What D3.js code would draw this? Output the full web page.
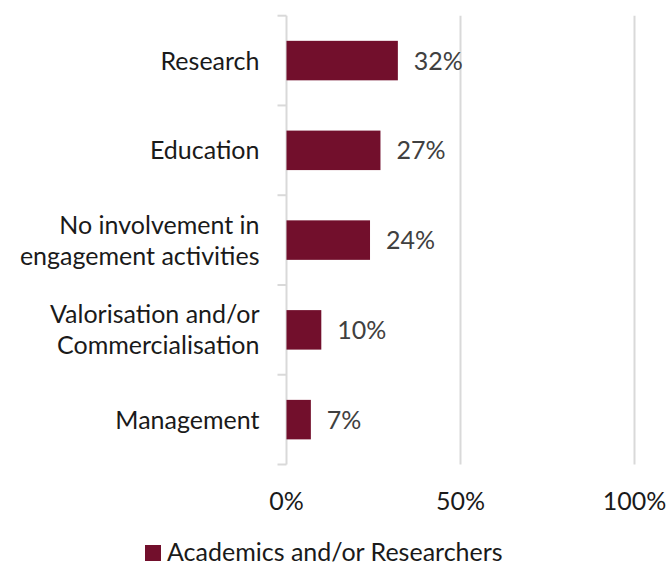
<!DOCTYPE html>
<html>
<head>
<meta charset="utf-8">
<script src="https://cdn.jsdelivr.net/npm/d3@7"></script>
<style>
  html, body { margin: 0; padding: 0; background: #fff; }
  svg { display: block; }
  text { font-family: Lato, "Open Sans", sans-serif; }
</style>
</head>
<body>
<svg id="chart" width="667" height="565"></svg>
<script>
// Share of respondents by type of engagement activity
const categories = [
  ["Research"],
  ["Education"],
  ["No involvement in", "engagement activities"],
  ["Valorisation and/or", "Commercialisation"],
  ["Management"]
];
const values = [32, 27, 24, 10, 7];
const tickValues = [0, 50, 100];
const seriesName = "Academics and/or Researchers";

const barColor = "#720F2C";
const gridColor = "#D9D9D9";
const fontSize = 25;

const svg = d3.select("#chart");
const margin = { top: 15.7, left: 286.5, right: 32.5, bottom: 100.5 };
const W = 667, H = 565;

const x = d3.scaleLinear()
  .domain([0, 100])
  .range([margin.left, W - margin.right]);

const y = d3.scaleBand()
  .domain(d3.range(categories.length))
  .range([margin.top, H - margin.bottom])
  .paddingInner(0.56)
  .paddingOuter(0.28);

// vertical gridlines
svg.append("g")
  .selectAll("line")
  .data(tickValues.filter(d => d > 0))
  .join("line")
  .attr("x1", d => x(d)).attr("x2", d => x(d))
  .attr("y1", margin.top).attr("y2", H - margin.bottom)
  .attr("stroke", gridColor)
  .attr("stroke-width", 2);

// category axis with ticks between categories
const axisG = svg.append("g");
axisG.append("line")
  .attr("x1", margin.left).attr("x2", margin.left)
  .attr("y1", margin.top).attr("y2", H - margin.bottom)
  .attr("stroke", gridColor).attr("stroke-width", 2);
const [r0, r1] = y.range();
const boundaries = d3.range(categories.length + 1).map(i => r0 + i * (r1 - r0) / categories.length);
axisG.selectAll("line.tick")
  .data(boundaries)
  .join("line")
  .attr("class", "tick")
  .attr("x1", margin.left - 9).attr("x2", margin.left)
  .attr("y1", d => d).attr("y2", d => d)
  .attr("stroke", gridColor).attr("stroke-width", 2);

// bars
svg.append("g")
  .selectAll("rect")
  .data(values)
  .join("rect")
  .attr("x", x(0))
  .attr("y", (d, i) => y(i))
  .attr("width", d => x(d) - x(0))
  .attr("height", y.bandwidth())
  .attr("fill", barColor);

// value labels
svg.append("g")
  .selectAll("text")
  .data(values)
  .join("text")
  .attr("x", d => x(d) + 16)
  .attr("y", (d, i) => y(i) + y.bandwidth() / 2)
  .attr("dy", "0.36em")
  .attr("font-size", fontSize)
  .attr("fill", "#404040")
  .text(d => d + "%");

// category labels
const catG = svg.append("g");
categories.forEach((lines, i) => {
  const cy = y(i) + y.bandwidth() / 2;
  const lh = 31;
  const t = catG.append("text")
    .attr("text-anchor", "end")
    .attr("font-size", fontSize)
    .attr("fill", "#1a1a1a");
  lines.forEach((ln, j) => {
    t.append("tspan")
      .attr("x", margin.left - 27)
      .attr("y", cy + (j - (lines.length - 1) / 2) * lh)
      .attr("dy", "0.36em")
      .text(ln);
  });
});

// x tick labels
svg.append("g")
  .selectAll("text")
  .data(tickValues)
  .join("text")
  .attr("x", d => x(d))
  .attr("y", 501)
  .attr("dy", "0.36em")
  .attr("text-anchor", "middle")
  .attr("font-size", fontSize)
  .attr("fill", "#1a1a1a")
  .text(d => d + "%");

// legend
const lg = svg.append("g");
lg.append("rect")
  .attr("x", 145).attr("y", 545)
  .attr("width", 16).attr("height", 16)
  .attr("fill", barColor);
lg.append("text")
  .attr("x", 167).attr("y", 552)
  .attr("dy", "0.36em")
  .attr("font-size", fontSize)
  .attr("fill", "#1a1a1a")
  .text(seriesName);
</script>
</body>
</html>
